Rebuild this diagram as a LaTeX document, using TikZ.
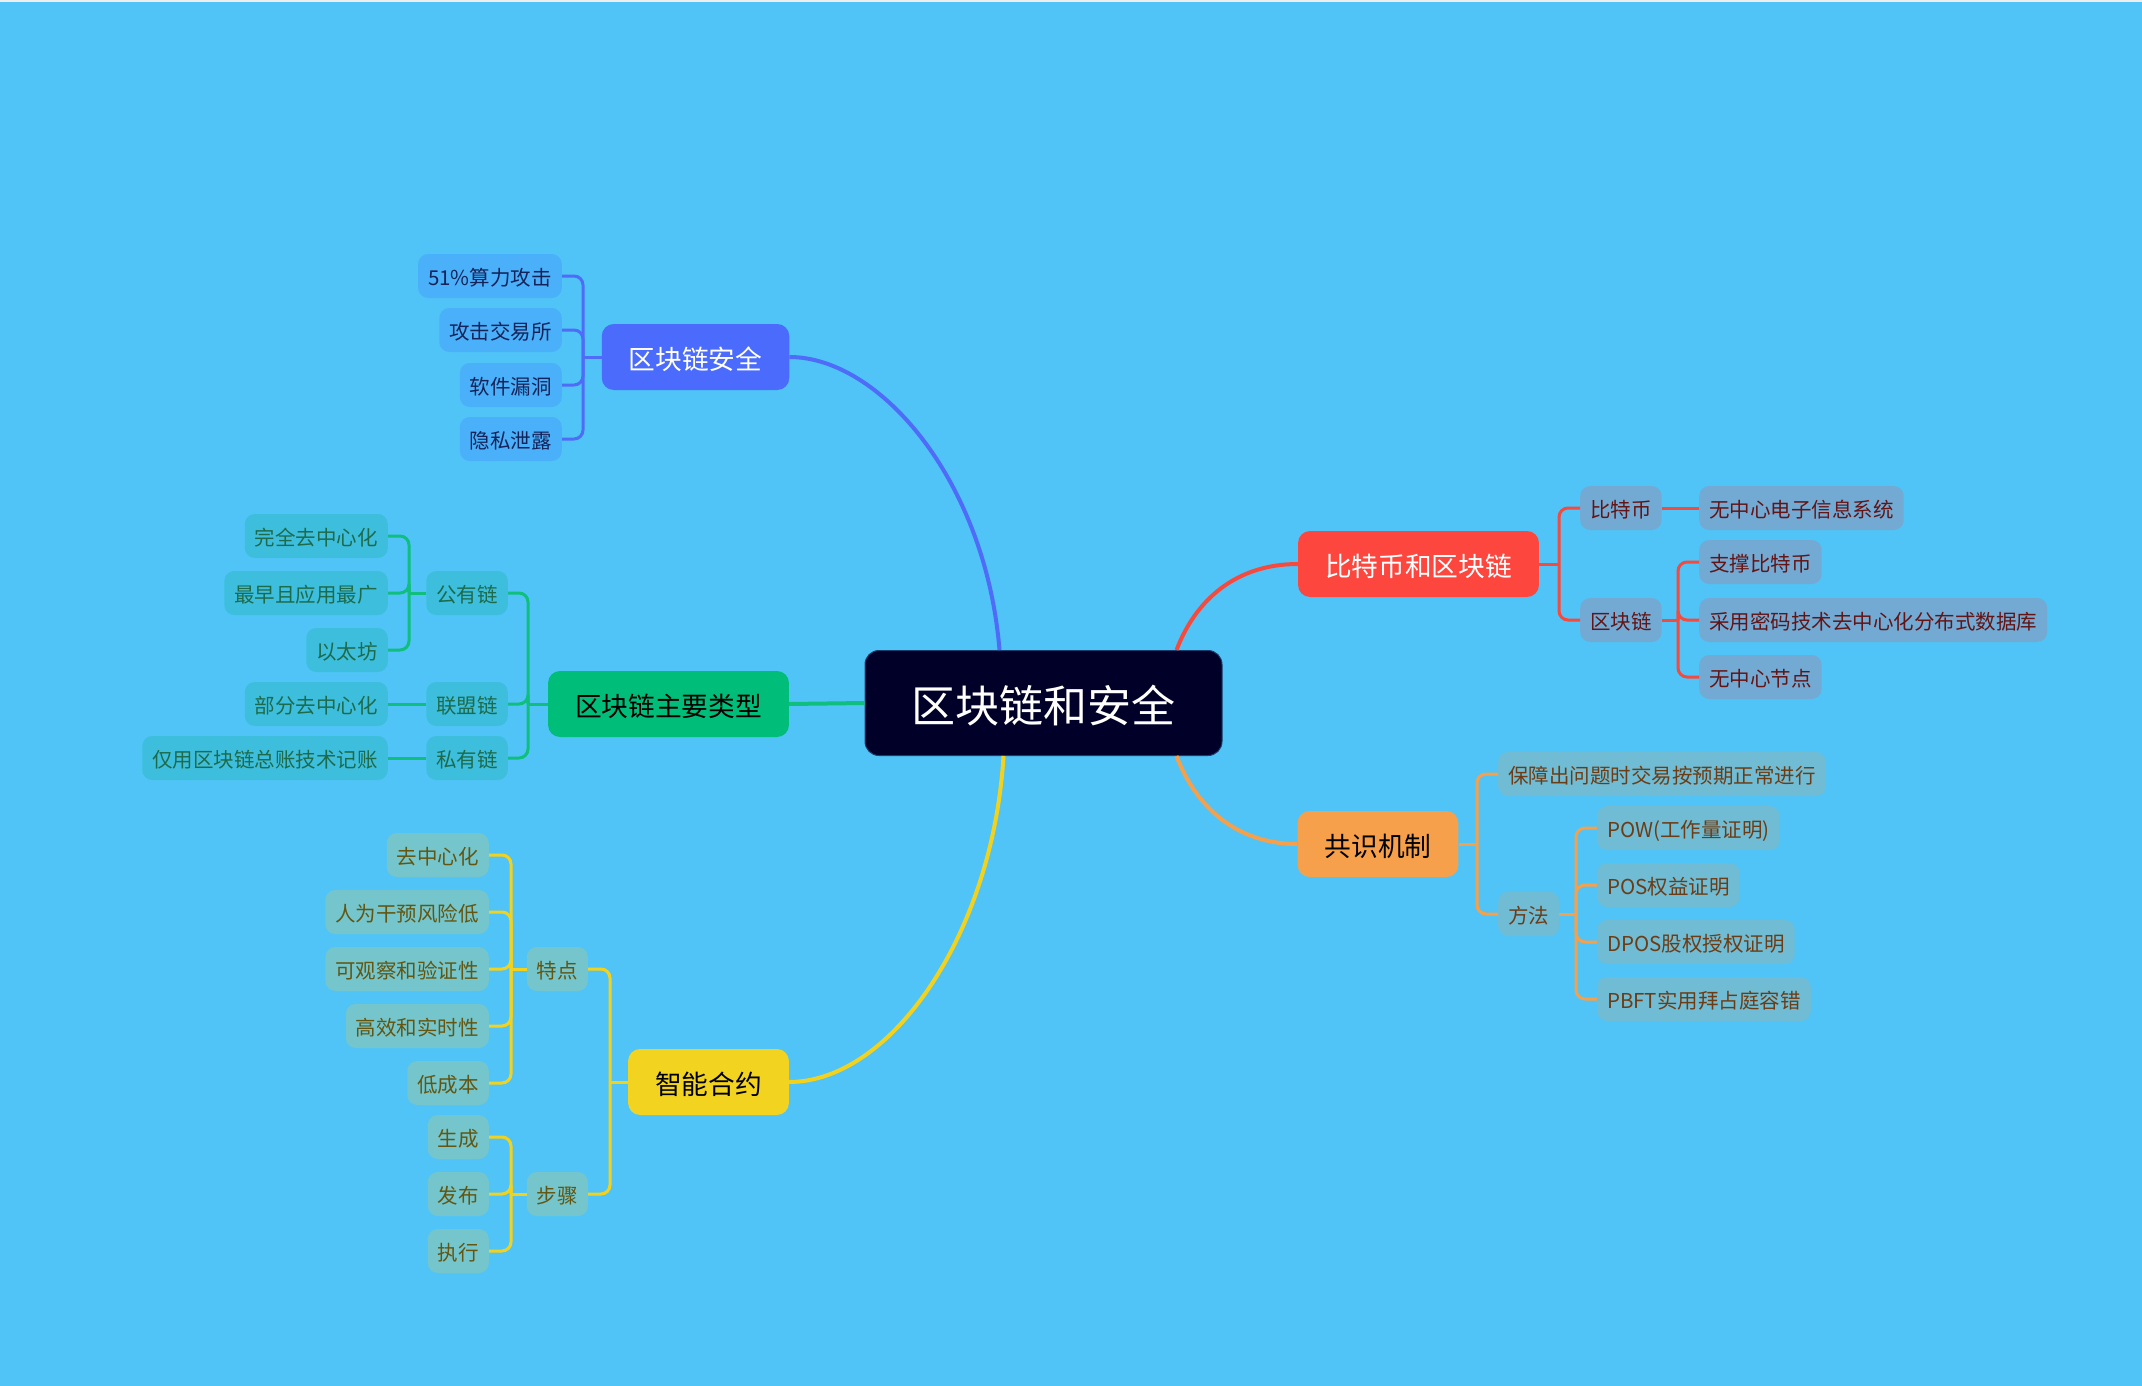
\documentclass[tikz,border=0pt]{standalone}
\usepackage{fontspec}
\setmainfont{Noto Sans CJK SC}
\definecolor{bg}{HTML}{50C4F7}
\definecolor{topline}{HTML}{EEEEEE}
\definecolor{rootfill}{HTML}{000028}
\definecolor{rootedge}{HTML}{1C3C6C}
% blue branch
\definecolor{bMain}{HTML}{4B6BFC}
\definecolor{bLine}{HTML}{4F6CF8}
\definecolor{bFill}{HTML}{4AB0F9}
\definecolor{bText}{HTML}{14235A}
% green branch
\definecolor{gMain}{HTML}{00BD7A}
\definecolor{gLine}{HTML}{10BE7E}
\definecolor{gFill}{HTML}{3DBEDC}
\definecolor{gText}{HTML}{1D6B4B}
% yellow branch
\definecolor{yMain}{HTML}{F2D420}
\definecolor{yLine}{HTML}{F3D21E}
\definecolor{yFill}{HTML}{74C6CC}
\definecolor{yText}{HTML}{645510}
% red branch
\definecolor{rMain}{HTML}{FD463E}
\definecolor{rLine}{HTML}{F64A3E}
\definecolor{rFill}{HTML}{72AAD4}
\definecolor{rText}{HTML}{641414}
% orange branch
\definecolor{oMain}{HTML}{F6A04C}
\definecolor{oLine}{HTML}{F6A04C}
\definecolor{oFill}{HTML}{70BCD4}
\definecolor{oText}{HTML}{6E3C14}
\tikzset{
  leaf/.style={rounded corners=10pt, minimum height=44pt, inner xsep=10pt, inner ysep=0pt,
    text height=20pt, text depth=1.5pt, font=\fontsize{20.5}{24}\selectfont},
  mainbox/.style={rounded corners=12pt, minimum height=66pt, inner xsep=27pt, inner ysep=0pt,
    text height=26pt, text depth=2pt, font=\fontsize{26.7}{30}\selectfont},
  rootbox/.style={rounded corners=14pt, minimum height=105pt, minimum width=357pt, inner ysep=0pt,
    text height=41pt, text depth=2.6pt, font=\fontsize{44}{50}\selectfont,
    fill=rootfill, draw=rootedge, line width=1pt, text=white},
  bleaf/.style={leaf, fill=bFill, text=bText},
  gleaf/.style={leaf, fill=gFill, text=gText},
  yleaf/.style={leaf, fill=yFill, text=yText},
  rleaf/.style={leaf, fill=rFill, text=rText},
  oleaf/.style={leaf, fill=oFill, text=oText},
  conn/.style={line width=3pt},
  mainln/.style={line width=4pt},
  rnd/.style={rounded corners=9pt},
}
\begin{document}
\begin{tikzpicture}[x=1pt,y=-1pt]
\fill[bg] (0,0) rectangle (2142,1386);
\fill[topline] (0,0) rectangle (2142,2);
\useasboundingbox (0,0) rectangle (2142,1386);

% root
\node[rootbox] (root) at (1043.5,703) {区块链和安全};

% main branches
\node[mainbox, fill=bMain, text=white] (sec) at (695.5,357) {区块链安全};
\node[mainbox, fill=gMain, text=black] (typ) at (668.5,704) {区块链主要类型};
\node[mainbox, fill=yMain, text=black] (sc) at (708.5,1082) {智能合约};
\node[mainbox, fill=rMain, text=white] (btc) at (1418.5,564) {比特币和区块链};
\node[mainbox, fill=oMain, text=black] (con) at (1378,844) {共识机制};

% blue leaves
\node[bleaf, anchor=east] (s1) at (562,276) {51\%算力攻击};
\node[bleaf, anchor=east] (s2) at (562,330) {攻击交易所};
\node[bleaf, anchor=east] (s3) at (562,385) {软件漏洞};
\node[bleaf, anchor=east] (s4) at (562,439) {隐私泄露};

% green
\node[gleaf, anchor=east] (g1) at (508,593) {公有链};
\node[gleaf, anchor=east] (g2) at (508,704) {联盟链};
\node[gleaf, anchor=east] (g3) at (508,758) {私有链};
\node[gleaf, anchor=east] (g11) at (388,536) {完全去中心化};
\node[gleaf, anchor=east] (g12) at (388,593) {最早且应用最广};
\node[gleaf, anchor=east] (g13) at (388,650) {以太坊};
\node[gleaf, anchor=east] (g21) at (388,704) {部分去中心化};
\node[gleaf, anchor=east] (g31) at (388,758) {仅用区块链总账技术记账};

% yellow
\node[yleaf, anchor=east] (y1) at (588,969) {特点};
\node[yleaf, anchor=east] (y2) at (588,1194) {步骤};
\node[yleaf, anchor=east] (y11) at (489,855) {去中心化};
\node[yleaf, anchor=east] (y12) at (489,912) {人为干预风险低};
\node[yleaf, anchor=east] (y13) at (489,969) {可观察和验证性};
\node[yleaf, anchor=east] (y14) at (489,1026) {高效和实时性};
\node[yleaf, anchor=east] (y15) at (489,1083) {低成本};
\node[yleaf, anchor=east] (y21) at (489,1137) {生成};
\node[yleaf, anchor=east] (y22) at (489,1194) {发布};
\node[yleaf, anchor=east] (y23) at (489,1251) {执行};

% red
\node[rleaf, anchor=west] (r1) at (1580,508) {比特币};
\node[rleaf, anchor=west] (r2) at (1580,620) {区块链};
\node[rleaf, anchor=west] (r11) at (1699,508) {无中心电子信息系统};
\node[rleaf, anchor=west] (r21) at (1699,562) {支撑比特币};
\node[rleaf, anchor=west] (r22) at (1699,620) {采用密码技术去中心化分布式数据库};
\node[rleaf, anchor=west] (r23) at (1699,677) {无中心节点};

% orange
\node[oleaf, anchor=west] (o1) at (1498,774) {保障出问题时交易按预期正常进行};
\node[oleaf, anchor=west] (o2) at (1498,914) {方法};
\node[oleaf, anchor=west] (o21) at (1597,828) {POW(工作量证明)};
\node[oleaf, anchor=west] (o22) at (1597,885) {POS权益证明};
\node[oleaf, anchor=west] (o23) at (1597,942) {DPOS股权授权证明};
\node[oleaf, anchor=west] (o24) at (1597,999) {PBFT实用拜占庭容错};

% bus points
\coordinate (bS) at (583,357);
\coordinate (bT) at (528,704);
\coordinate (bG1) at (409,593);
\coordinate (bY) at (610,1082);
\coordinate (bY1) at (511,969);
\coordinate (bY2) at (511,1194);
\coordinate (bR) at (1559,564);
\coordinate (bR2) at (1678,620);
\coordinate (bO) at (1477,844);
\coordinate (bO2) at (1576,914);

% main curves
\draw[bLine, mainln] (sec.east) .. controls +(90,0) and +(-14,-170) .. ([xshift=-44pt]root.north);
\draw[gLine, mainln] (typ.east) -- (root.west);
\draw[yLine, mainln] (sc.east) .. controls +(101,0) and +(-11,180) .. ([xshift=-40pt]root.south);
\draw[rLine, mainln] ([xshift=133pt]root.north) .. controls +(19,-50) and +(-62,0) .. (btc.west);
\draw[oLine, mainln] ([xshift=133pt]root.south) .. controls +(19,50) and +(-62,0) .. (con.west);

% blue connectors
\draw[bLine, conn] (sec.west) -- (bS);
\foreach \c in {s1,s2,s3,s4} \draw[bLine, conn, rnd] (bS) |- (\c.east);

% green connectors
\draw[gLine, conn] (typ.west) -- (bT);
\foreach \c in {g1,g2,g3} \draw[gLine, conn, rnd] (bT) |- (\c.east);
\draw[gLine, conn] (g1.west) -- (bG1);
\foreach \c in {g11,g12,g13} \draw[gLine, conn, rnd] (bG1) |- (\c.east);
\draw[gLine, conn] (g2.west) -- (g21.east);
\draw[gLine, conn] (g3.west) -- (g31.east);

% yellow connectors
\draw[yLine, conn] (sc.west) -- (bY);
\foreach \c in {y1,y2} \draw[yLine, conn, rnd] (bY) |- (\c.east);
\draw[yLine, conn] (y1.west) -- (bY1);
\foreach \c in {y11,y12,y13,y14,y15} \draw[yLine, conn, rnd] (bY1) |- (\c.east);
\draw[yLine, conn] (y2.west) -- (bY2);
\foreach \c in {y21,y22,y23} \draw[yLine, conn, rnd] (bY2) |- (\c.east);

% red connectors
\draw[rLine, conn] (btc.east) -- (bR);
\foreach \c in {r1,r2} \draw[rLine, conn, rnd] (bR) |- (\c.west);
\draw[rLine, conn] (r1.east) -- (r11.west);
\draw[rLine, conn] (r2.east) -- (bR2);
\foreach \c in {r21,r22,r23} \draw[rLine, conn, rnd] (bR2) |- (\c.west);

% orange connectors
\draw[oLine, conn] (con.east) -- (bO);
\foreach \c in {o1,o2} \draw[oLine, conn, rnd] (bO) |- (\c.west);
\draw[oLine, conn] (o2.east) -- (bO2);
\foreach \c in {o21,o22,o23,o24} \draw[oLine, conn, rnd] (bO2) |- (\c.west);
\end{tikzpicture}
\end{document}
